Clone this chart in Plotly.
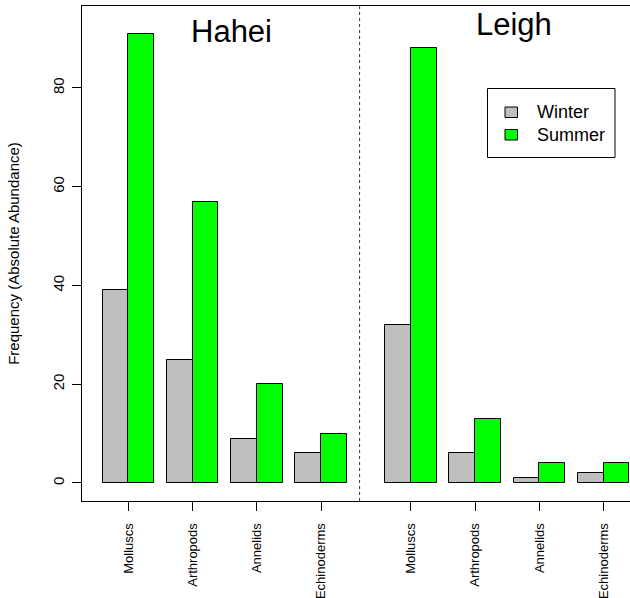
import plotly.graph_objects as go

categories = ["Molluscs", "Arthropods", "Annelids", "Echinoderms"]
sites = ["Hahei", "Leigh"]
winter_hahei = [39, 25, 9, 6]
summer_hahei = [91, 57, 20, 10]
winter_leigh = [32, 6, 1, 2]
summer_leigh = [88, 13, 4, 4]
y_ticks = [0, 20, 40, 60, 80]

GREY = "#BEBEBE"
GREEN = "#00FF00"
FONT = "Liberation Sans, Arial, Helvetica, sans-serif"

# group centres: 2 bars of width 1, 0.5 gap between groups, extra 1 gap between sites
centers = []
for s in range(len(sites)):
    for i in range(len(categories)):
        centers.append(s * (len(categories) * 2.5 + 1) + i * 2.5)

winter = winter_hahei + winter_leigh
summer = summer_hahei + summer_leigh
labels = categories * len(sites)

fig = go.Figure()
fig.add_trace(go.Bar(x=[c - 0.5 for c in centers], y=winter, width=1, name="Winter",
                     marker=dict(color=GREY, line=dict(color="black", width=1)), showlegend=False))
fig.add_trace(go.Bar(x=[c + 0.5 for c in centers], y=summer, width=1, name="Summer",
                     marker=dict(color=GREEN, line=dict(color="black", width=1)), showlegend=False))

sep = (centers[3] + centers[4]) / 2 - 0.25
fig.add_shape(type="line", xref="x", yref="paper", x0=sep, x1=sep, y0=0, y1=1,
              line=dict(color="#333333", width=1, dash="3px,3px"))

# site titles
fig.add_annotation(x=(centers[1] + centers[2]) / 2 + 0.25, y=87.4, text="Hahei", showarrow=False,
                   xref="x", yref="y", yanchor="bottom", font=dict(family=FONT, size=31, color="black"))
fig.add_annotation(x=(centers[5] + centers[6]) / 2 + 0.25, y=88.9, text="Leigh", showarrow=False,
                   xref="x", yref="y", yanchor="bottom", font=dict(family=FONT, size=31, color="black"))

# legend (manual, R style)
W, H, L, T = 630, 598, 82, 6
PW, PH = W - L, 501 - T
def px(x): return (x - L) / PW
def py(y): return (501 - y) / PH
fig.add_shape(type="rect", xref="paper", yref="paper", x0=px(487.5), x1=px(615), y0=py(157.5), y1=py(88.5),
              line=dict(color="black", width=1), fillcolor="white")
for name, col, yc in [("Winter", GREY, 112), ("Summer", GREEN, 134.5)]:
    fig.add_shape(type="rect", xref="paper", yref="paper", x0=px(505), x1=px(517.5),
                  y0=py(yc + 5.5), y1=py(yc - 5), line=dict(color="black", width=1), fillcolor=col)
    fig.add_annotation(xref="paper", yref="paper", x=px(535), y=py(yc), text=name, showarrow=False,
                       xanchor="left", yanchor="middle", font=dict(family=FONT, size=18, color="black"))

fig.update_layout(
    width=W, height=H,
    margin=dict(l=L, r=0, t=T, b=H - 501, pad=0, autoexpand=False),
    plot_bgcolor="white", paper_bgcolor="white",
    bargap=0,
    font=dict(family=FONT, color="black"),
    xaxis=dict(range=[-1.81, 19.53], tickvals=centers, ticktext=labels, tickangle=-90,
               ticks="outside", ticklen=9, tickcolor="black", tickwidth=1,
               showline=True, linecolor="black", linewidth=1, mirror=True, automargin=False,
               showgrid=False, zeroline=False, tickfont=dict(size=13, family=FONT),
               ticklabelstandoff=7),
    yaxis=dict(range=[-3.65, 96.6], tickvals=y_ticks, tickangle=-90,
               ticks="outside", ticklen=9, tickcolor="black", tickwidth=1,
               showline=True, linecolor="black", linewidth=1, mirror=False, automargin=False,
               showgrid=False, zeroline=False, tickfont=dict(size=15, family=FONT),
               title=dict(text="Frequency (Absolute Abundance)", font=dict(size=15, family=FONT), standoff=26),
               ticklabelstandoff=2),
)

fig.write_html("out.html", config={"displayModeBar": False},
               post_script="document.body.style.margin='0';document.body.style.overflow='hidden';")
